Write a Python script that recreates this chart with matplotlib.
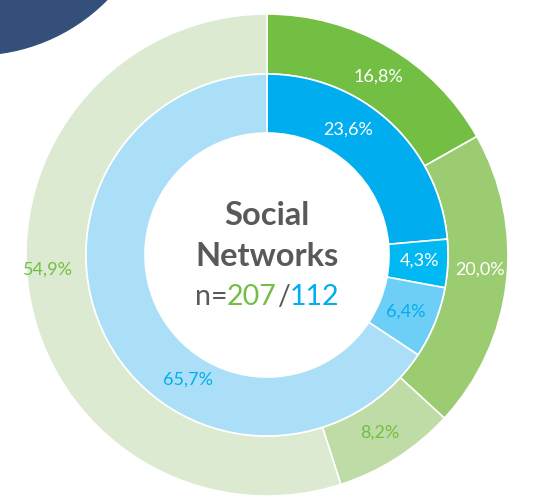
import matplotlib.pyplot as plt
from matplotlib.patches import Circle

plt.rcParams['font.family'] = ['Lato', 'DejaVu Sans']

# outer ring (n=207), inner ring (n=112)
outer_vals = [16.8, 20.0, 8.2, 54.9]
inner_vals = [23.6, 4.3, 6.4, 65.7]
outer_cols = ['#72bf44', '#9ccc72', '#bfdca6', '#dbead0']
inner_cols = ['#00aeef', '#00b9f2', '#6dcff6', '#abdff8']
outer_txtcol = ['white', 'white', '#72bf44', '#72bf44']
inner_txtcol = ['white', 'white', '#00aeef', '#00aeef']
title_lines = ['Social', 'Networks']
n_outer, n_inner = 207, 112

W, H = 540, 498
cx, cy = 267, H - 255
R_out, R_mid, R_in = 241, 181, 122
# label spots (pixels from top-left), same order as the values
outer_pos = [(378, 77), (480, 270), (380, 433), (48, 270)]
inner_pos = [(348, 130), (420, 261), (406, 312), (188, 380)]

fig = plt.figure(figsize=(W / 100, H / 100), dpi=100)
ax = fig.add_axes([0, 0, 1, 1])

ax.add_patch(Circle((-25, H + 130), 185, color='#34507a', zorder=0))

ax.pie(outer_vals, colors=outer_cols, radius=R_out, center=(cx, cy), startangle=90,
       counterclock=False, wedgeprops=dict(width=R_out - R_mid, edgecolor='white', linewidth=1.2),
       frame=True)
ax.pie(inner_vals, colors=inner_cols, radius=R_mid, center=(cx, cy), startangle=90,
       counterclock=False, wedgeprops=dict(width=R_mid - R_in, edgecolor='white', linewidth=1.2),
       frame=True)

def pct(v):
    return f'{v:.1f}%'.replace('.', ',')

for v, c, (x, y) in zip(outer_vals, outer_txtcol, outer_pos):
    ax.text(x, H - y, pct(v), color=c, fontsize=13, ha='center', va='center')
for v, c, (x, y) in zip(inner_vals, inner_txtcol, inner_pos):
    ax.text(x, H - y, pct(v), color=c, fontsize=13, ha='center', va='center')

ax.text(cx, H - 215, title_lines[0], color='#595959', fontsize=23.5, fontweight='bold',
        ha='center', va='center')
ax.text(cx, H - 256, title_lines[1], color='#595959', fontsize=23.5, fontweight='bold',
        ha='center', va='center')

# n=207/112 with coloured numbers
parts = [('n=', '#595959'), (str(n_outer), '#72bf44'), ('/', '#595959'), (str(n_inner), '#00aeef')]
ax.set_xlim(0, W)
ax.set_ylim(0, H)
ax.set_aspect('equal')
ax.axis('off')
r = fig.canvas.get_renderer()
tmp = [ax.text(0, 0, s, fontsize=20.5) for s, _ in parts]
widths = [t.get_window_extent(renderer=r).width for t in tmp]
for t in tmp:
    t.remove()
x = cx - sum(widths) / 2
for (s, c), w in zip(parts, widths):
    ax.text(x, H - 297, s, color=c, fontsize=20.5, ha='left', va='center')
    x += w

fig.savefig('out.png', dpi=100)
